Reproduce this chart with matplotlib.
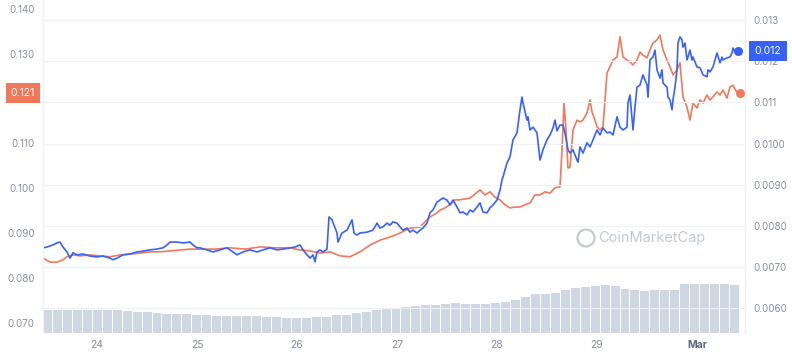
import numpy as np
import matplotlib
matplotlib.use('Agg')
import matplotlib.pyplot as plt
from matplotlib.patches import Circle
from matplotlib.transforms import blended_transform_factory

# ------------------------------------------------------------------
# time in days of Feb 2024 (Mar 1 = 30)
orange_t = [23.46, 23.53, 23.60, 23.66, 23.70, 23.76, 23.83, 23.93, 24.03, 24.13,
            24.23, 24.33, 24.43, 24.53, 24.63, 24.73, 24.83, 24.93, 25.03, 25.18,
            25.33, 25.48, 25.63, 25.78, 25.93, 26.03, 26.13, 26.23, 26.33, 26.43,
            26.53, 26.63, 26.73, 26.83, 26.93, 27.03, 27.13, 27.23, 27.28, 27.33,
            27.38, 27.43, 27.48, 27.53, 27.58, 27.63, 27.68, 27.73, 27.78, 27.83,
            27.88, 27.93, 27.98, 28.03, 28.08, 28.13, 28.18, 28.23, 28.28, 28.33,
            28.38, 28.43, 28.48, 28.53, 28.58, 28.63, 28.65, 28.67, 28.69, 28.71,
            28.73, 28.76, 28.80, 28.83, 28.86, 28.90, 28.93, 28.95, 28.98, 29.00,
            29.03, 29.06, 29.08, 29.10, 29.13, 29.16, 29.20, 29.23, 29.26, 29.30,
            29.33, 29.36, 29.40, 29.43, 29.46, 29.50, 29.53, 29.56, 29.60, 29.63,
            29.66, 29.70, 29.73, 29.76, 29.80, 29.83, 29.86, 29.90, 29.93, 29.96,
            30.00, 30.03, 30.06, 30.10, 30.13, 30.16, 30.20, 30.23, 30.26, 30.30,
            30.33, 30.36, 30.40, 30.43]
orange_v = [0.0844, 0.0835, 0.0835, 0.0840, 0.0847, 0.0851, 0.0849, 0.0851, 0.0849, 0.0847,
            0.0851, 0.0853, 0.0855, 0.0858, 0.0858, 0.0860, 0.0862, 0.0864, 0.0864, 0.0864,
            0.0867, 0.0864, 0.0869, 0.0867, 0.0867, 0.0862, 0.0860, 0.0855, 0.0858, 0.0849,
            0.0847, 0.0858, 0.0873, 0.0884, 0.0891, 0.0900, 0.0911, 0.0913, 0.0925, 0.0936,
            0.0942, 0.0951, 0.0956, 0.0963, 0.0974, 0.0974, 0.0976, 0.0978, 0.0987, 0.0996,
            0.0985, 0.0992, 0.0980, 0.0974, 0.0963, 0.0956, 0.0958, 0.0958, 0.0963, 0.0967,
            0.0985, 0.0985, 0.0992, 0.0989, 0.1001, 0.1003, 0.1085, 0.1190, 0.1130, 0.1045,
            0.1047, 0.1130, 0.1152, 0.1148, 0.1152, 0.1168, 0.1197, 0.1170, 0.1152, 0.1137,
            0.1130, 0.1137, 0.1197, 0.1257, 0.1271, 0.1286, 0.1293, 0.1338, 0.1293, 0.1286,
            0.1282, 0.1275, 0.1286, 0.1304, 0.1297, 0.1291, 0.1309, 0.1324, 0.1331, 0.1342,
            0.1309, 0.1286, 0.1271, 0.1253, 0.1264, 0.1280, 0.1204, 0.1181, 0.1152, 0.1190,
            0.1179, 0.1197, 0.1190, 0.1208, 0.1197, 0.1204, 0.1215, 0.1208, 0.1219, 0.1201,
            0.1226, 0.1230, 0.1213, 0.1213]

blue_t = [23.46, 23.50, 23.56, 23.60, 23.63, 23.66, 23.70, 23.73, 23.76, 23.80,
          23.86, 23.93, 24.00, 24.06, 24.13, 24.16, 24.20, 24.26, 24.33, 24.40,
          24.46, 24.53, 24.60, 24.66, 24.70, 24.73, 24.80, 24.86, 24.93, 24.96,
          25.00, 25.03, 25.10, 25.16, 25.23, 25.30, 25.36, 25.40, 25.46, 25.53,
          25.60, 25.66, 25.73, 25.80, 25.86, 25.93, 25.98, 26.03, 26.06, 26.10,
          26.13, 26.16, 26.18, 26.20, 26.23, 26.26, 26.30, 26.32, 26.35, 26.40,
          26.41, 26.45, 26.50, 26.55, 26.57, 26.60, 26.63, 26.70, 26.76, 26.80,
          26.83, 26.86, 26.90, 26.93, 26.96, 27.00, 27.03, 27.06, 27.10, 27.13,
          27.16, 27.20, 27.23, 27.26, 27.30, 27.33, 27.36, 27.40, 27.43, 27.46,
          27.50, 27.53, 27.56, 27.60, 27.63, 27.66, 27.70, 27.73, 27.76, 27.80,
          27.83, 27.86, 27.90, 27.93, 27.96, 28.00, 28.03, 28.05, 28.06, 28.10,
          28.13, 28.16, 28.20, 28.23, 28.25, 28.26, 28.30, 28.31, 28.33, 28.36,
          28.40, 28.43, 28.46, 28.50, 28.53, 28.56, 28.58, 28.60, 28.63, 28.66,
          28.68, 28.71, 28.73, 28.76, 28.80, 28.81, 28.83, 28.86, 28.90, 28.93,
          28.96, 29.00, 29.03, 29.06, 29.10, 29.13, 29.16, 29.20, 29.23, 29.26,
          29.30, 29.31, 29.33, 29.36, 29.38, 29.40, 29.43, 29.46, 29.50, 29.51,
          29.53, 29.56, 29.58, 29.60, 29.63, 29.65, 29.66, 29.70, 29.71, 29.73,
          29.75, 29.76, 29.78, 29.80, 29.81, 29.83, 29.85, 29.86, 29.88, 29.90,
          29.91, 29.93, 29.95, 29.96, 30.00, 30.03, 30.06, 30.10, 30.11, 30.13,
          30.16, 30.20, 30.23, 30.25, 30.26, 30.30, 30.33, 30.35, 30.36, 30.38,
          30.40, 30.41]
blue_v = [0.00747, 0.00749, 0.00754, 0.00759, 0.00761, 0.00749, 0.00737, 0.00722, 0.00735, 0.00730,
          0.00732, 0.00727, 0.00725, 0.00727, 0.00722, 0.00718, 0.00722, 0.00730, 0.00732, 0.00737,
          0.00739, 0.00742, 0.00744, 0.00747, 0.00754, 0.00761, 0.00761, 0.00759, 0.00761, 0.00754,
          0.00747, 0.00747, 0.00742, 0.00737, 0.00742, 0.00747, 0.00737, 0.00730, 0.00737, 0.00742,
          0.00737, 0.00742, 0.00747, 0.00742, 0.00744, 0.00747, 0.00749, 0.00754, 0.00742, 0.00730,
          0.00722, 0.00730, 0.00713, 0.00737, 0.00742, 0.00737, 0.00744, 0.00822, 0.00815, 0.00783,
          0.00761, 0.00783, 0.00790, 0.00815, 0.00783, 0.00778, 0.00783, 0.00785, 0.00790, 0.00807,
          0.00795, 0.00798, 0.00807, 0.00802, 0.00810, 0.00807, 0.00798, 0.00790, 0.00795, 0.00785,
          0.00790, 0.00783, 0.00790, 0.00795, 0.00807, 0.00832, 0.00839, 0.00858, 0.00863, 0.00868,
          0.00863, 0.00851, 0.00863, 0.00846, 0.00832, 0.00834, 0.00827, 0.00839, 0.00834, 0.00846,
          0.00856, 0.00834, 0.00832, 0.00844, 0.00851, 0.00863, 0.00887, 0.00912, 0.00919, 0.00953,
          0.00968, 0.01009, 0.01026, 0.01082, 0.01113, 0.01099, 0.01057, 0.01065, 0.01033, 0.01040,
          0.01026, 0.00960, 0.00985, 0.01009, 0.01021, 0.01038, 0.01057, 0.01031, 0.01045, 0.01045,
          0.01026, 0.00985, 0.00977, 0.00985, 0.00960, 0.00955, 0.00992, 0.00977, 0.01002, 0.00992,
          0.01009, 0.01033, 0.01021, 0.01038, 0.01026, 0.01028, 0.01021, 0.01065, 0.01040, 0.01033,
          0.01040, 0.01099, 0.01118, 0.01033, 0.01089, 0.01137, 0.01142, 0.01167, 0.01142, 0.01113,
          0.01203, 0.01210, 0.01227, 0.01179, 0.01159, 0.01179, 0.01147, 0.01137, 0.01113, 0.01106,
          0.01082, 0.01106, 0.01137, 0.01179, 0.01244, 0.01259, 0.01252, 0.01234, 0.01244, 0.01203,
          0.01210, 0.01227, 0.01203, 0.01210, 0.01186, 0.01184, 0.01167, 0.01162, 0.01179, 0.01174,
          0.01186, 0.01220, 0.01196, 0.01210, 0.01203, 0.01208, 0.01210, 0.01220, 0.01232, 0.01222,
          0.01227, 0.01225]

# volume bars (relative units), one bar per ~2.4 h
volume = [46.8, 46.8, 46.8, 46.8, 45.4, 46.8, 46.8, 45.4, 44.0, 42.0,
          42.0, 40.8, 38.8, 38.8, 37.4, 36.0, 35.4, 33.4, 33.4, 33.4,
          33.4, 33.4, 32.0, 32.0, 30.8, 29.4, 30.8, 31.4, 32.0, 36.0,
          36.8, 40.0, 42.0, 45.4, 48.0, 49.4, 52.0, 53.4, 55.4, 55.4,
          58.6, 60.0, 58.6, 58.6, 58.6, 60.0, 61.4, 65.4, 72.0, 77.4,
          78.6, 80.0, 85.4, 90.6, 92.0, 94.0, 95.4, 93.4, 88.6, 85.4,
          84.0, 85.4, 86.6, 86.6, 97.4, 97.4, 97.4, 97.4, 97.4, 96.0]
vol_start = 23.46
vol_end = 30.43

x_ticks = [24, 25, 26, 27, 28, 29, 30]
x_labels = ['24', '25', '26', '27', '28', '29', 'Mar']
# 0.120 sits under the last-price badge, so its label is left blank
left_ticks = [0.070, 0.080, 0.090, 0.100, 0.110, 0.120, 0.130, 0.140]
left_labels = ['0.070', '0.080', '0.090', '0.100', '0.110', '', '0.130', '0.140']
right_ticks = [0.006, 0.007, 0.008, 0.009, 0.010, 0.011, 0.012, 0.013]
right_labels = ['0.0060', '0.0070', '0.0080', '0.0090', '0.0100', '0.011', '0.012', '0.013']

# ------------------------------------------------------------------
ORANGE = '#f2785c'
BLUE = '#3861fb'
GREY = '#858ca2'
GRID = '#eff2f5'
BAR = '#cfd6e4'

plt.rcParams['font.family'] = ['Inter', 'DejaVu Sans']

fig = plt.figure(figsize=(7.92, 3.56), dpi=100)
host = fig.add_axes([43 / 792, 23 / 356, 702 / 792, 333 / 356])
ax_l = host.twinx()
ax_r = host.twinx()

# volume
step = (vol_end - vol_start) / len(volume)
vol_x = vol_start + step * np.arange(len(volume))
host.bar(vol_x, volume, width=step * 0.9, align='edge', color=BAR, linewidth=0)
host.set_ylim(0, 666)
host.set_yticks([])
host.set_xlim(23.46, 30.48)
host.set_xticks(x_ticks)
host.set_xticklabels(x_labels)
host.tick_params(axis='x', length=0, pad=5, labelsize=7.5, labelcolor=GREY)
for lab in host.get_xticklabels():
    if lab.get_text() == 'Mar':
        lab.set_fontweight('bold')
        lab.set_color('#58667e')

# orange, left axis
ax_l.plot(orange_t, orange_v, color=ORANGE, lw=1.2, solid_joinstyle='round')
ax_l.plot(orange_t[-1], orange_v[-1], 'o', color=ORANGE, ms=5.5)
ax_l.set_ylim(0.06768, 0.14201)
ax_l.yaxis.tick_left()
ax_l.set_yticks(left_ticks)
ax_l.set_yticklabels(left_labels)
ax_l.tick_params(axis='y', length=0, pad=6, labelsize=7, labelcolor=GREY)

# blue, right axis
ax_r.grid(axis='y', color=GRID, lw=0.8)
ax_r.set_axisbelow(True)
ax_r.plot(blue_t, blue_v, color=BLUE, lw=1.2, solid_joinstyle='round')
ax_r.plot(blue_t[-1], blue_v[-1], 'o', color=BLUE, ms=5.5)
ax_r.set_ylim(0.005403, 0.013485)
ax_r.set_yticks(right_ticks)
ax_r.set_yticklabels(right_labels)
ax_r.tick_params(axis='y', length=0, pad=6, labelsize=7, labelcolor=GREY)

for a in (host, ax_l, ax_r):
    for side in ('top', 'bottom'):
        a.spines[side].set_visible(False)
    a.spines['left'].set_color(GRID)
    a.spines['right'].set_color(GRID)

# last price badges
tr_l = blended_transform_factory(fig.transFigure, ax_l.transData)
ax_l.text(23 / 792, orange_v[-1], '%.3f' % orange_v[-1], transform=tr_l,
          ha='center', va='center', color='white', fontsize=7.5,
          bbox=dict(boxstyle='square,pad=0.5', fc=ORANGE, ec='none'))
tr_r = blended_transform_factory(fig.transFigure, ax_r.transData)
ax_r.text(768 / 792, blue_v[-1], '%.3f' % blue_v[-1], transform=tr_r,
          ha='center', va='center', color='white', fontsize=7.5,
          bbox=dict(boxstyle='square,pad=0.5', fc=BLUE, ec='none'))

# watermark
wm = '#c3c9d4'
fig.text(598 / 792, 1 - 238 / 356, 'CoinMarketCap', color=wm, fontsize=10.5,
         ha='left', va='center')
fig.patches.append(Circle((5.86, 3.56 - 2.38), 0.085, transform=fig.dpi_scale_trans,
                          fill=False, ec=wm, lw=1.6))

fig.savefig('out.png', dpi=100)
